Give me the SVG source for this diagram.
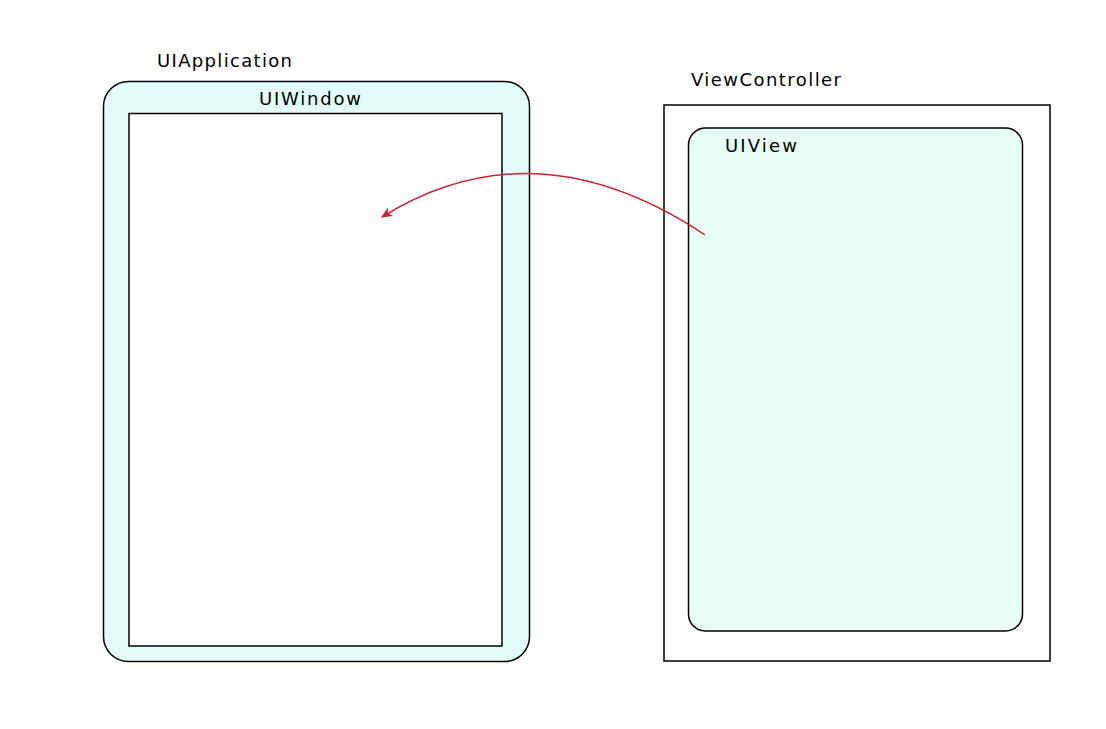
<svg xmlns="http://www.w3.org/2000/svg" width="1106" height="729" viewBox="0 0 1106 729">
<style>
.box{stroke:#000;stroke-width:1.5}
.lbl{font-family:"DejaVu Sans",Verdana,sans-serif;font-size:18px;fill:#000}
.conn{fill:none;stroke:#c62333;stroke-width:1.5}
</style>
<defs>
<marker id="ah" markerWidth="12" markerHeight="10" refX="10" refY="5" orient="auto" markerUnits="userSpaceOnUse">
<path d="M0,0 L11,5 L0,10 L3,5 Z" fill="#c62333"/>
</marker>
</defs>
<rect width="1106" height="729" fill="#fff"/>
<g id="UIApplication">
<rect class="box" x="103.5" y="81.5" width="426" height="580" rx="25" ry="25" fill="#e3fdf9"/>
<text class="lbl" x="157" y="67" textLength="135" lengthAdjust="spacing">UIApplication</text>
</g>
<g id="UIWindow">
<rect class="box" x="129" y="113.5" width="373" height="532.5" fill="#fff"/>
<text class="lbl" x="259" y="105" textLength="102" lengthAdjust="spacing">UIWindow</text>
</g>
<g id="ViewController">
<rect class="box" x="664" y="105" width="386" height="556" fill="#fff"/>
<text class="lbl" x="691" y="86" textLength="150" lengthAdjust="spacing">ViewController</text>
</g>
<g id="UIView">
<rect class="box" x="688.5" y="128" width="334" height="503" rx="17" ry="17" fill="#e8fdf3"/>
<text class="lbl" x="725" y="152" textLength="72" lengthAdjust="spacing">UIView</text>
</g>
<g id="connectors">
<path class="conn" d="M705,235 Q535,122 382,217" marker-end="url(#ah)"/>
</g>
</svg>
